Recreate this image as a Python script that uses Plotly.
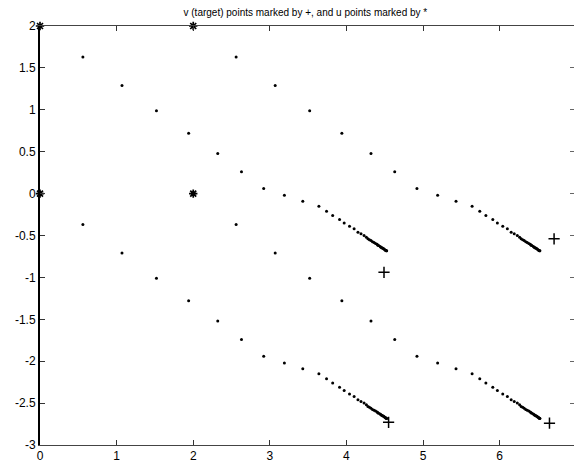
import plotly.graph_objects as go

# u points (starting points), marked by *
u_x = [0, 0, 2, 2]
u_y = [2, 0, 2, 0]

# v (target) points, marked by +
v_x = [4.49, 6.71, 4.55, 6.65]
v_y = [-0.94, -0.54, -2.73, -2.74]

# iterate paths leaving the u points (left column starts at x=0, right at x=2)
left_x = [0.56, 1.07, 1.52, 1.94, 2.32, 2.63, 2.92, 3.19, 3.43, 3.64, 3.74, 3.82,
          3.91, 3.97, 4.04, 4.10, 4.15, 4.19, 4.23, 4.26, 4.28, 4.30, 4.32, 4.34,
          4.36, 4.38, 4.40, 4.41, 4.42, 4.44, 4.45, 4.46, 4.47, 4.48, 4.49, 4.50,
          4.51, 4.515, 4.52, 4.525]
right_x = [2.56, 3.07, 3.52, 3.94, 4.32, 4.63, 4.92, 5.19, 5.43, 5.64, 5.74, 5.82,
           5.91, 5.97, 6.04, 6.10, 6.15, 6.19, 6.23, 6.26, 6.28, 6.30, 6.32, 6.34,
           6.36, 6.38, 6.40, 6.41, 6.42, 6.44, 6.45, 6.46, 6.47, 6.48, 6.49, 6.50,
           6.51, 6.515, 6.52, 6.525]
upper_y = [1.63, 1.29, 0.99, 0.72, 0.48, 0.26, 0.06, -0.02, -0.09, -0.15, -0.21,
           -0.26, -0.31, -0.35, -0.39, -0.42, -0.46, -0.48, -0.50, -0.52, -0.54,
           -0.55, -0.56, -0.575, -0.585, -0.595, -0.605, -0.615, -0.62, -0.63,
           -0.64, -0.645, -0.65, -0.655, -0.66, -0.67, -0.675, -0.678, -0.681, -0.683]
lower_y = [-0.37, -0.71, -1.01, -1.28, -1.52, -1.74, -1.94, -2.02, -2.09, -2.15,
           -2.21, -2.26, -2.31, -2.35, -2.39, -2.42, -2.46, -2.48, -2.50, -2.52,
           -2.54, -2.55, -2.56, -2.575, -2.585, -2.595, -2.605, -2.615, -2.62,
           -2.63, -2.64, -2.645, -2.65, -2.655, -2.66, -2.67, -2.675, -2.678,
           -2.681, -2.683]

paths = [(left_x, upper_y), (right_x, upper_y), (left_x, lower_y), (right_x, lower_y)]

x_ticks = [0, 1, 2, 3, 4, 5, 6]
x_labels = ["0", "1", "2", "3", "4", "5", "6"]
y_ticks = [2, 1.5, 1, 0.5, 0, -0.5, -1, -1.5, -2, -2.5, -3]
y_labels = ["2", "1.5", "1", "0.5", "0", "-0.5", "-1", "-1.5", "-2", "-2.5", "-3"]

fig = go.Figure()

for px, py in paths:
    fig.add_trace(go.Scatter(
        x=px, y=py, mode="markers",
        marker=dict(symbol="circle", size=3, color="black", line=dict(width=0)),
        cliponaxis=False, showlegend=False, hoverinfo="skip"))

fig.add_trace(go.Scatter(
    x=v_x, y=v_y, mode="markers",
    marker=dict(symbol="cross-thin", size=8, color="black",
                line=dict(width=1.5, color="black")),
    cliponaxis=False, showlegend=False, hoverinfo="skip"))

fig.add_trace(go.Scatter(
    x=u_x, y=u_y, mode="markers",
    marker=dict(symbol="asterisk-open", size=7, color="black",
                line=dict(width=1.7, color="black")),
    cliponaxis=False, showlegend=False, hoverinfo="skip"))

# right-hand tick marks
fig.add_trace(go.Scatter(x=[None], y=[None], yaxis="y2", showlegend=False,
                         hoverinfo="skip"))

tick_font = dict(family="Liberation Sans, Arial, sans-serif", size=12, color="black")

fig.update_layout(
    width=574, height=463,
    margin=dict(l=40, r=0, t=26, b=18),
    paper_bgcolor="white", plot_bgcolor="white",
    title=dict(text="v (target) points marked by +, and u points marked by *",
               x=0.532, xanchor="center", y=0.973, yanchor="middle",
               font=dict(family="Liberation Sans, Arial, sans-serif", size=10,
                         color="black")),
    xaxis=dict(range=[0, 6.97], tickvals=x_ticks, ticktext=x_labels,
               ticks="inside", ticklen=5, tickwidth=1, tickcolor="#333",
               showline=True, linecolor="#444", linewidth=1, mirror="ticks",
               showgrid=False, zeroline=False, tickfont=tick_font),
    yaxis=dict(range=[-3, 2], tickvals=y_ticks, ticktext=y_labels,
               ticks="inside", ticklen=5, tickwidth=1, tickcolor="#333",
               showline=True, linecolor="black", linewidth=2, mirror=False,
               showgrid=False, zeroline=False, tickfont=tick_font),
    yaxis2=dict(range=[-3, 2], overlaying="y", side="right", tickvals=y_ticks,
                ticks="inside", ticklen=4, tickwidth=1, tickcolor="#666",
                showticklabels=False, showline=False,
                showgrid=False, zeroline=False),
)

fig.write_html("out.html")
